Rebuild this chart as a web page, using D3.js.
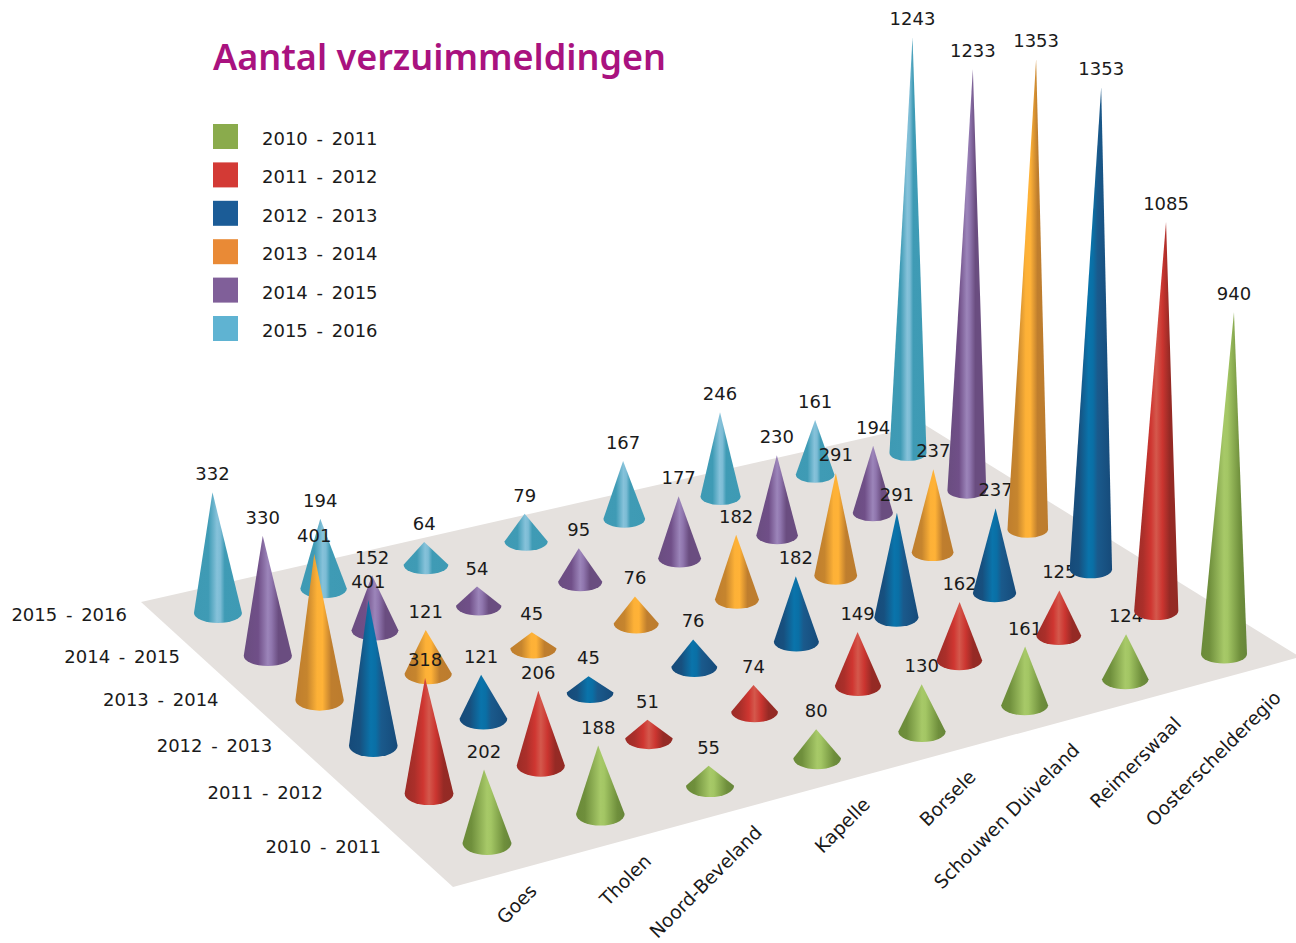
<!DOCTYPE html>
<html>
<head>
<meta charset="utf-8">
<title>Aantal verzuimmeldingen</title>
<script src="https://cdn.jsdelivr.net/npm/d3@7"></script>
<style>
  html, body { margin: 0; padding: 0; background: #fff; }
  svg { display: block; }
  text { font-family: "DejaVu Sans", sans-serif; fill: #1a1a1a; }
</style>
</head>
<body>
<div id="chart"></div>
<script>
// Data
const municipalities = ["Goes", "Tholen", "Noord-Beveland", "Kapelle", "Borsele", "Schouwen Duiveland", "Reimerswaal", "Oosterschelderegio"];
const years = ["2010 - 2011", "2011 - 2012", "2012 - 2013", "2013 - 2014", "2014 - 2015", "2015 - 2016"];
const values2010 = [202, 188, 55, 80, 130, 161, 124, 940];
const values2011 = [318, 206, 51, 74, 149, 162, 125, 1085];
const values2012 = [401, 121, 45, 76, 182, 291, 237, 1353];
const values2013 = [401, 121, 45, 76, 182, 291, 237, 1353];
const values2014 = [330, 152, 54, 95, 177, 230, 194, 1233];
const values2015 = [332, 194, 64, 79, 167, 246, 161, 1243];
const seriesValues = [values2010, values2011, values2012, values2013, values2014, values2015];

const legendColors = ["#8aab4c", "#d33a35", "#1b5c97", "#e98a36", "#805f99", "#5fb3d2"];

// Shading of every cone, left to right
const coneStops = [
  [[0, "#6a8a38"], [0.18, "#6f8f3c"], [0.5, "#a7c968"], [0.58, "#a3c664"], [0.85, "#6f8f3c"], [1, "#66853a"]],
  [[0, "#9c2c27"], [0.2, "#ab2f2a"], [0.38, "#cf3631"], [0.5, "#d4584c"], [0.64, "#cb3530"], [0.8, "#962a25"], [1, "#922a24"]],
  [[0, "#164a79"], [0.22, "#17507f"], [0.45, "#0a74ab"], [0.55, "#0a6fa5"], [0.66, "#1a5a8c"], [1, "#164a79"]],
  [[0, "#bf7e2e"], [0.24, "#c6852e"], [0.45, "#fdb137"], [0.56, "#ffb237"], [0.74, "#bf7e2e"], [1, "#bc7c2e"]],
  [[0, "#6a4d80"], [0.3, "#704f88"], [0.5, "#9c85ba"], [0.58, "#8f75ad"], [0.72, "#6a4d80"], [1, "#6a4d80"]],
  [[0, "#3e9ab4"], [0.3, "#3f9bb5"], [0.48, "#86c2da"], [0.55, "#7cbcd5"], [0.64, "#3f9bb5"], [1, "#3e9ab4"]]
];

const svgWidth = 1296;
const svgHeight = 943;
const labelSize = 18;

let svg = d3.select("#chart")
  .append("svg")
  .attr("width", svgWidth)
  .attr("height", svgHeight);

// Position of a municipality and a year on the floor, 0 to 1
let colPoint = d3.scalePoint().domain(municipalities).range([0, 1]);
let colBend = d3.scalePow().exponent(0.99).domain([0, 1]).range([0, 1]);
let colScale = d => colBend(colPoint(d));
let rowScale = d3.scalePoint().domain(years).range([0, 1]);

// Floor perspective: the unit square onto the four outer cones
function project(u, v) {
  let w = 0.0660 * u + 0.09834 * v + 1;
  return [
    (817.8 * u - 247.6 * v + 487) / w,
    (-145.8 * u - 169.7 * v + 843) / w
  ];
}

// Cones get smaller towards the far corner of the floor
function corner(u, v, front0, front1, back0, back1) {
  let front = d3.scaleLinear().domain([0, 1]).range([front0, front1])(u);
  let back = d3.scaleLinear().domain([0, 1]).range([back0, back1])(u);
  return d3.scaleLinear().domain([0, 1]).range([front, back])(v);
}

let heightScale = d3.scaleLinear().domain([0, 1353]).range([0, 492]);
let farShrink = d3.scaleLinear().domain([0, 0.2, 0.4, 0.6, 0.8, 1]).range([1, 0.986, 0.98, 0.955, 0.94, 0.92]);

// floor
const floorCorners = [[-0.0824, -0.1058], [1.0733, -0.0728], [1.07, 1.1], [-0.0693, 1.109]];
svg.append("path")
  .attr("d", d3.line()(floorCorners.map(c => project(c[0], c[1]))) + "Z")
  .attr("fill", "#e5e1de");

// gradients
let defs = svg.append("defs");
coneStops.forEach(function(stops, i) {
  let grad = defs.append("linearGradient").attr("id", "cone" + i);
  grad.selectAll("stop")
    .data(stops)
    .enter().append("stop")
    .attr("offset", d => d[0])
    .attr("stop-color", d => d[1]);
});

// title
svg.append("text")
  .attr("x", 213)
  .attr("y", 70)
  .attr("font-size", 36)
  .attr("font-weight", 600)
  .style("font-family", "'Noto Sans', sans-serif")
  .style("fill", "#a9127f")
  .text("Aantal verzuimmeldingen");

// legend
let legendY = d3.scalePoint().domain(years).range([124, 316]);
let legend = svg.append("g").selectAll("g")
  .data(years)
  .enter().append("g")
  .attr("transform", d => `translate(213, ${legendY(d)})`);
legend.append("rect")
  .attr("width", 25)
  .attr("height", 25)
  .attr("fill", (d, i) => legendColors[i]);
legend.append("text")
  .attr("x", 49)
  .attr("y", 21)
  .attr("font-size", labelSize)
  .attr("word-spacing", 3)
  .text(d => d);

// row labels, offset from the first cone of the row
let rowDx = d3.scaleLinear().domain([0, 0.2, 0.4, 0.6, 0.8, 1]).range([-106, -106, -101, -101, -88, -91]);
let rowDy = d3.scaleLinear().domain([0, 0.2, 0.4, 0.6, 0.8, 1]).range([10, 6, 6, 6, 7, 8]);
svg.append("g").selectAll("text")
  .data(years)
  .enter().append("text")
  .attr("x", d => project(0, rowScale(d))[0] + rowDx(rowScale(d)))
  .attr("y", d => project(0, rowScale(d))[1] + rowDy(rowScale(d)))
  .attr("text-anchor", "end")
  .attr("font-size", labelSize)
  .attr("word-spacing", 3)
  .text(d => d);

// column labels
let colDx = d3.scaleLinear().domain([0, 1]).range([51, 58]);
let colDy = d3.scaleLinear().domain([0, 1]).range([49, 45]);
svg.append("g").selectAll("text")
  .data(municipalities)
  .enter().append("text")
  .attr("transform", function(d) {
    let u = colScale(d);
    let p = project(u, 0);
    return `translate(${p[0] + colDx(u)}, ${p[1] + colDy(u)}) rotate(-45)`;
  })
  .attr("text-anchor", "end")
  .attr("font-size", 18.7)
  .text(d => d);

// One cone per cell; each label goes in two rows further back than its own cone
function coneData(rowIndex) {
  let v = rowScale(years[rowIndex]);
  return seriesValues[rowIndex].map(function(value, c) {
    let u = colScale(municipalities[c]);
    let base = project(u, v);
    let h = heightScale(value) * (1 - (1 - farShrink(v)) * u);
    return {
      value: value,
      x: base[0],
      y: base[1],
      rx: corner(u, v, 24.5, 23, 24, 18.5),
      ry: corner(u, v, 12, 9.5, 10, 8),
      tipX: base[0] + h * (base[0] - 720) / 17300 - 2 * (1 - u),
      tipY: base[1] - h
    };
  });
}

function drawCones(rowIndex) {
  svg.append("g").selectAll("path")
    .data(coneData(rowIndex))
    .enter().append("path")
    .attr("d", d => `M${d.x - d.rx},${d.y}L${d.tipX},${d.tipY}L${d.x + d.rx},${d.y}A${d.rx},${d.ry} 0 0 1 ${d.x - d.rx},${d.y}Z`)
    .attr("fill", `url(#cone${rowIndex})`);
}

function drawLabels(rowIndex) {
  svg.append("g").selectAll("text")
    .data(coneData(rowIndex))
    .enter().append("text")
    .attr("x", d => d.tipX)
    .attr("y", d => d.tipY - 12)
    .attr("text-anchor", "middle")
    .attr("font-size", labelSize)
    .text(d => d.value);
}

// back to front
drawLabels(5);
drawLabels(4);
for (let r = years.length - 1; r >= 0; r--) {
  drawCones(r);
  if (r - 2 >= 0) drawLabels(r - 2);
}
</script>
</body>
</html>
